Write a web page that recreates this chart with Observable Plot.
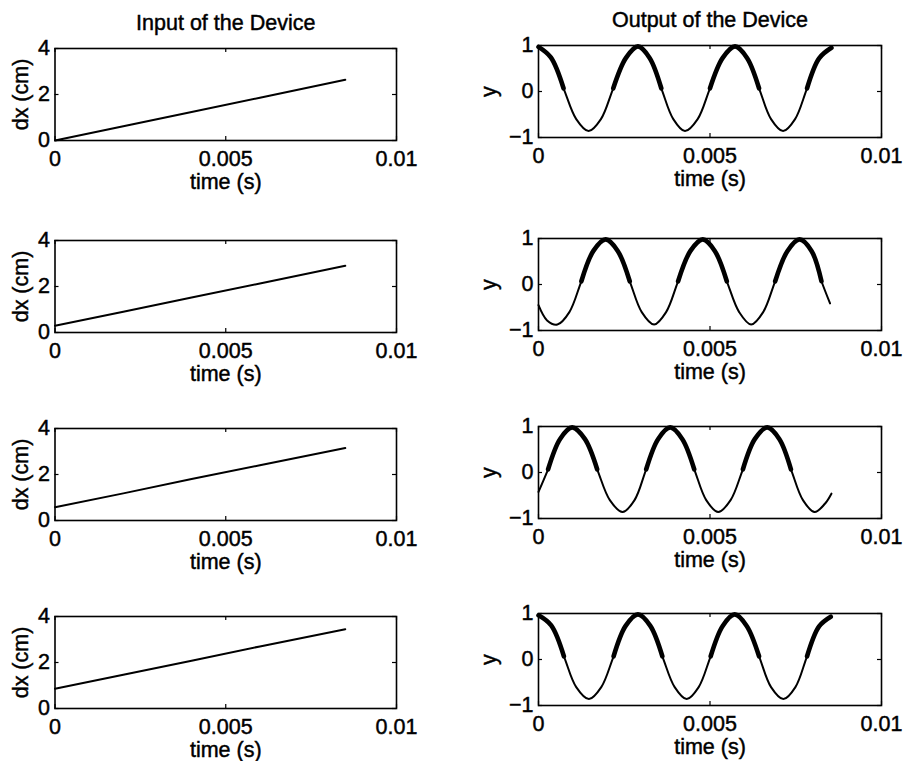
<!DOCTYPE html>
<html>
<head>
<meta charset="utf-8">
<script src="https://cdn.jsdelivr.net/npm/d3@7"></script>
<script src="https://cdn.jsdelivr.net/npm/@observablehq/plot@0.6"></script>
<style>
  html, body { margin: 0; padding: 0; background: #fff; overflow: hidden; }
  #fig { position: relative; width: 904px; height: 761px; overflow: hidden; background: #fff; }
  #fig > div { position: absolute; }
  #fig svg { max-width: none; }
  #fig svg text { stroke: #000; stroke-width: 0.45px; }
</style>
</head>
<body>
<div id="fig"></div>
<script>
// Axis ticks
const timeTicks = [0, 0.005, 0.01];
const dxTicks = [0, 2, 4];
const yTicks = [-1, 0, 1];

// Column titles
const inputTitle = "Input of the Device";
const outputTitle = "Output of the Device";

// Input displacement dx (cm) against time (s), one series per row
const inputTime = [0, 0.002, 0.004, 0.006, 0.0085];
const inputDx1 = [0, 0.62, 1.24, 1.86, 2.64];
const inputDx2 = [0.29, 0.9, 1.52, 2.13, 2.9];
const inputDx3 = [0.58, 1.18, 1.8, 2.4, 3.15];
const inputDx4 = [0.86, 1.47, 2.08, 2.7, 3.45];

// Output signal y against time (s), one series per row
const outTime1 = [0, 0.00036, 0.00073, 0.0011, 0.00146, 0.00182, 0.00218, 0.00255, 0.0029, 0.00324, 0.00358, 0.00393, 0.00427, 0.00464, 0.005, 0.00537, 0.00573, 0.00608, 0.00643, 0.00678, 0.00713, 0.00748, 0.00783, 0.00818, 0.00854];
const outY1 = [0.97, 0.74, 0.07, -0.6, -0.86, -0.6, 0.07, 0.73, 0.98, 0.73, 0.07, -0.6, -0.86, -0.6, 0.07, 0.73, 0.98, 0.73, 0.07, -0.6, -0.86, -0.6, 0.07, 0.72, 0.95];

const outTime2 = [0, 0.00025, 0.00055, 0.0009, 0.00125, 0.0016, 0.00196, 0.00231, 0.00266, 0.00301, 0.00337, 0.00372, 0.00407, 0.00443, 0.00479, 0.00514, 0.00549, 0.00585, 0.0062, 0.00655, 0.0069, 0.00726, 0.00761, 0.00796, 0.00825, 0.0085];
const outY2 = [-0.45, -0.78, -0.87, -0.6, 0.07, 0.73, 0.98, 0.73, 0.07, -0.6, -0.87, -0.6, 0.07, 0.73, 0.98, 0.73, 0.07, -0.6, -0.87, -0.6, 0.07, 0.73, 0.98, 0.73, 0.07, -0.41];

const outTime3 = [0, 0.00028, 0.00063, 0.00098, 0.00135, 0.00171, 0.00208, 0.00245, 0.0028, 0.00314, 0.00349, 0.00384, 0.00419, 0.00454, 0.00489, 0.00524, 0.0056, 0.00596, 0.00631, 0.00667, 0.00702, 0.00736, 0.00771, 0.00805, 0.00835, 0.00854];
const outY3 = [-0.42, 0.07, 0.73, 0.98, 0.73, 0.07, -0.6, -0.86, -0.6, 0.07, 0.73, 0.98, 0.73, 0.07, -0.6, -0.86, -0.6, 0.07, 0.73, 0.98, 0.73, 0.07, -0.6, -0.86, -0.68, -0.46];

const outTime4 = [0, 0.00037, 0.00074, 0.0011, 0.00147, 0.00183, 0.00219, 0.00254, 0.0029, 0.00326, 0.00361, 0.00397, 0.00432, 0.00467, 0.00502, 0.00537, 0.00572, 0.00607, 0.00643, 0.00678, 0.00714, 0.00749, 0.00783, 0.00818, 0.00852];
const outY4 = [0.96, 0.74, 0.07, -0.6, -0.86, -0.6, 0.07, 0.73, 0.98, 0.73, 0.07, -0.6, -0.86, -0.6, 0.07, 0.73, 0.98, 0.73, 0.07, -0.6, -0.86, -0.6, 0.07, 0.72, 0.93];

// ---- layout ----
const FONT = '"Liberation Sans", Arial, Helvetica, sans-serif';
const FONT_SIZE = 21.5;
const FRAME_H = 92;
const TOP_M = 45;
const BOTTOM_M = 60;
const TICK_LEN = 4;
const columns = [
  {left: 0, width: 450, marginLeft: 54.5, marginRight: 54, frameTops: [48, 239.5, 428, 615.5], labelOffset: 42},
  {left: 450, width: 454, marginLeft: 88, marginRight: 23, frameTops: [45, 237.5, 426, 613], labelOffset: 58}
];

const fmt = d => (d < 0 ? "\u2212" + Math.abs(d) : String(d));
const toRows = (ts, vs) => ts.map((t, i) => ({t, v: vs[i]}));

function panel(col, row, {domain, ticks, label, title, marks}) {
  const c = columns[col];
  const frameW = c.width - c.marginLeft - c.marginRight;
  const svg = Plot.plot({
    width: c.width,
    height: TOP_M + FRAME_H + BOTTOM_M,
    marginTop: TOP_M,
    marginBottom: BOTTOM_M,
    marginLeft: c.marginLeft,
    marginRight: c.marginRight,
    style: {fontFamily: FONT, fontSize: FONT_SIZE + "px", color: "#000", background: "transparent", overflow: "visible"},
    x: {domain: [0, 0.01]},
    y: {domain},
    marks: [
      // inward tick marks on all four sides
      Plot.ruleX(timeTicks, {stroke: "#000", strokeWidth: 1.2, insetTop: FRAME_H - TICK_LEN}),
      Plot.ruleX(timeTicks, {stroke: "#000", strokeWidth: 1.2, insetBottom: FRAME_H - TICK_LEN}),
      Plot.ruleY(ticks, {stroke: "#000", strokeWidth: 1.2, insetRight: frameW - TICK_LEN}),
      Plot.ruleY(ticks, {stroke: "#000", strokeWidth: 1.2, insetLeft: frameW - TICK_LEN}),
      Plot.axisX({ticks: timeTicks, tickSize: 0, tickPadding: 10, tickFormat: fmt,
        label: "time (s)", labelAnchor: "center", labelOffset: 48, labelArrow: "none"}),
      Plot.axisY({ticks, tickSize: 0, tickPadding: 5, tickFormat: fmt,
        label, labelAnchor: "center", labelOffset: c.labelOffset, labelArrow: "none"}),
      ...marks,
      Plot.frame({stroke: "#000", strokeWidth: 1.6}),
      title ? Plot.text([title], {frameAnchor: "top", dy: -19, lineAnchor: "bottom", fontSize: FONT_SIZE, fill: "#000"}) : null
    ]
  });
  const holder = document.createElement("div");
  holder.style.left = c.left + "px";
  holder.style.top = (c.frameTops[row] - TOP_M) + "px";
  holder.appendChild(svg);
  document.getElementById("fig").appendChild(holder);
}

const inputs = [inputDx1, inputDx2, inputDx3, inputDx4];
const outputs = [[outTime1, outY1], [outTime2, outY2], [outTime3, outY3], [outTime4, outY4]];

inputs.forEach((dx, row) => {
  panel(0, row, {
    domain: [0, 4], ticks: dxTicks, label: "dx (cm)",
    title: row === 0 ? inputTitle : null,
    marks: [Plot.line(toRows(inputTime, dx), {x: "t", y: "v", stroke: "#000", strokeWidth: 2})]
  });
});

outputs.forEach(([ts, ys], row) => {
  const data = toRows(ts, ys);
  panel(1, row, {
    domain: [-1, 1], ticks: yTicks, label: "y",
    title: row === 0 ? outputTitle : null,
    marks: [
      Plot.line(data, {x: "t", y: "v", stroke: "#000", strokeWidth: 2, curve: "catmull-rom"}),
      // the noisier upper half of each cycle draws as a heavier trace
      Plot.line(data, {x: "t", y: d => (d.v > 0 ? d.v : NaN), stroke: "#000", strokeWidth: 4.6,
        strokeLinecap: "round", curve: "catmull-rom"})
    ]
  });
});
</script>
</body>
</html>
